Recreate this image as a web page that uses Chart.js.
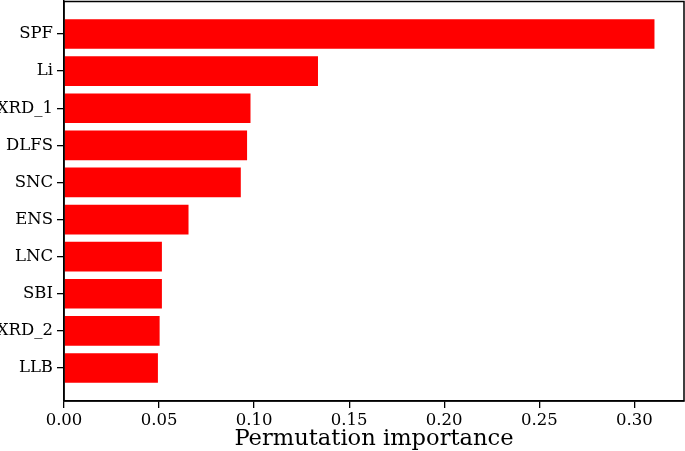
<!DOCTYPE html>
<html>
<head>
<meta charset="utf-8">
<script src="https://cdn.jsdelivr.net/npm/chart.js@4/dist/chart.umd.min.js"></script>
<style>
html,body{margin:0;padding:0;background:#fff;}
#wrap{width:685px;height:451px;position:relative;}
canvas{display:block;}
</style>
</head>
<body>
<div id="wrap"><canvas id="c" width="685" height="451"></canvas></div>
<script>
const categories = ["SPF","Li","XRD_1","DLFS","SNC","ENS","LNC","SBI","XRD_2","LLB"];
const importance = [0.3106,0.1336,0.0981,0.0963,0.0930,0.0655,0.0515,0.0515,0.0503,0.0494];
const xTickValues = [0,0.05,0.10,0.15,0.20,0.25,0.30];
const xTickLabels = ["0.00","0.05","0.10","0.15","0.20","0.25","0.30"];
const axisTitle = "Permutation importance";

const FONT = "'DejaVu Serif', serif";

const framePlugin = {
  id: 'frame',
  afterDraw(chart) {
    const {ctx, chartArea:a} = chart;
    ctx.save();
    ctx.strokeStyle = '#000';
    ctx.lineWidth = 1.5;
    const top = Math.max(a.top, 1.5);
    ctx.beginPath();
    ctx.moveTo(a.left, top);
    ctx.lineTo(a.right, top);
    ctx.lineTo(a.right, a.bottom);
    ctx.lineTo(a.left, a.bottom);
    ctx.closePath();
    ctx.stroke();
    ctx.restore();
  }
};

new Chart(document.getElementById('c'), {
  type: 'bar',
  data: {
    datasets: [{
      data: importance.map((v, i) => ({x: v, y: i})),
      backgroundColor: '#ff0000',
      borderWidth: 0,
      barPercentage: 0.8,
      categoryPercentage: 1.0
    }]
  },
  options: {
    indexAxis: 'y',
    responsive: false,
    animation: false,
    devicePixelRatio: 1,
    layout: {padding: {top: 1, right: 1, left: 0, bottom: 0}},
    plugins: {legend: {display: false}, tooltip: {enabled: false}},
    scales: {
      x: {
        type: 'linear',
        min: 0,
        max: importance[0] * 1.05,
        afterBuildTicks(scale) { scale.ticks = xTickValues.map(v => ({value: v})); },
        afterFit(scale) { scale.height = 50; scale.paddingLeft = 0; scale.paddingRight = 0; },
        grid: {drawOnChartArea: false, drawTicks: true, tickLength: 7, color: '#000', lineWidth: 1.3},
        border: {display: true, color: '#000', width: 1.5},
        ticks: {
          color: '#000',
          font: {family: FONT, size: 16.5},
          padding: 3,
          maxRotation: 0,
          callback: (v, i) => xTickLabels[i]
        },
        title: {
          display: true,
          text: axisTitle,
          color: '#000',
          font: {family: FONT, size: 22.6},
          padding: {top: 0, bottom: -2}
        }
      },
      y: {
        type: 'linear',
        reverse: true,
        offset: false,
        min: -0.89,
        max: 9.89,
        afterBuildTicks(scale) { scale.ticks = categories.map((c, i) => ({value: i})); },
        afterFit(scale) { scale.width = 64; scale.paddingTop = 0; scale.paddingBottom = 0; },
        grid: {offset: false, drawOnChartArea: false, drawTicks: true, tickLength: 7, color: '#000', lineWidth: 1.3},
        border: {display: true, color: '#000', width: 1.5},
        ticks: {
          color: '#000',
          font: {family: FONT, size: 16.5},
          padding: 4,
          callback: (v) => categories[Math.round(v)]
        }
      }
    }
  },
  plugins: [framePlugin]
});
</script>
</body>
</html>
